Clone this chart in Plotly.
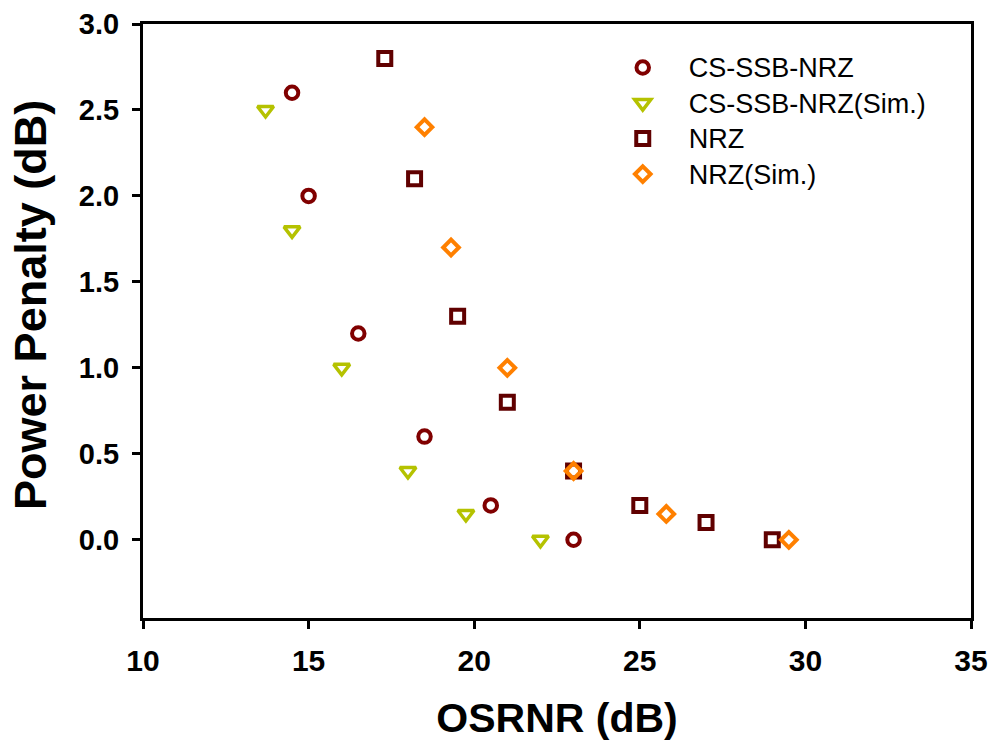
import plotly.graph_objects as go

# CS-SSB-NRZ (measured)
cs_x = [14.5, 15.0, 16.5, 18.5, 20.5, 23.0]
cs_y = [2.6, 2.0, 1.2, 0.6, 0.2, 0.0]
# CS-SSB-NRZ (Sim.)
cs_sim_x = [13.7, 14.5, 16.0, 18.0, 19.75, 22.0]
cs_sim_y = [2.5, 1.8, 1.0, 0.4, 0.15, 0.0]
# NRZ (measured)
nrz_x = [17.3, 18.2, 19.5, 21.0, 23.0, 25.0, 27.0, 29.0]
nrz_y = [2.8, 2.1, 1.3, 0.8, 0.4, 0.2, 0.1, 0.0]
# NRZ (Sim.)
nrz_sim_x = [18.5, 19.3, 21.0, 23.0, 25.8, 29.5]
nrz_sim_y = [2.4, 1.7, 1.0, 0.4, 0.15, 0.0]

names = ["CS-SSB-NRZ", "CS-SSB-NRZ(Sim.)", "NRZ", "NRZ(Sim.)"]

FONT = "Liberation Sans, Arial, sans-serif"

fig = go.Figure()
series = [
    (cs_x, cs_y, "circle-open", "#800000", 12.5, 4),
    (cs_sim_x, cs_sim_y, "triangle-down-open", "#B5C200", 14, 3.5),
    (nrz_x, nrz_y, "square-open", "#600000", 13, 4),
    (nrz_sim_x, nrz_sim_y, "diamond-open", "#FF8000", 12, 4),
]
for name, (xs, ys, sym, col, sz, lw) in zip(names, series):
    fig.add_trace(go.Scatter(
        x=xs, y=ys, mode="markers",
        name=f"<span style='font-size:27px'>{name}</span>",
        marker=dict(symbol=sym, size=sz, color=col, line=dict(width=lw, color=col)),
    ))

axis_common = dict(
    showline=True, linecolor="black", linewidth=3, mirror=True,
    ticks="outside", ticklen=8, tickwidth=3, tickcolor="black",
    showgrid=False, zeroline=False, automargin=False,
)
fig.update_layout(
    width=992, height=751,
    margin=dict(l=143, r=21, t=24, b=133),
    plot_bgcolor="white", paper_bgcolor="white",
    font=dict(family=FONT, color="black"),
    xaxis=dict(range=[10, 35], dtick=5, tick0=10,
               tickfont=dict(size=30, family=FONT, weight="bold"),
               ticklabelstandoff=6,
               title=dict(text="<b>OSRNR (dB)</b>", font=dict(size=41), standoff=28),
               **axis_common),
    yaxis=dict(range=[-0.455, 3.0], tickvals=[0, 0.5, 1, 1.5, 2, 2.5, 3],
               ticktext=["0.0", "0.5", "1.0", "1.5", "2.0", "2.5", "3.0"],
               tickfont=dict(size=29, family=FONT, weight="bold"),
               ticklabelstandoff=7,
               **axis_common),
    annotations=[dict(
        text="<b>Power Penalty (dB)</b>", textangle=-90,
        xref="paper", yref="paper", x=-0.1353, y=0.527,
        xanchor="center", yanchor="middle", showarrow=False,
        font=dict(size=45, family=FONT, color="black"),
    )],
    legend=dict(x=0.548, y=0.965, xanchor="left", yanchor="top",
                font=dict(size=25, family=FONT), tracegroupgap=0,
                bgcolor="rgba(0,0,0,0)", itemwidth=82),
    showlegend=True,
)
fig.write_html("out.html")
